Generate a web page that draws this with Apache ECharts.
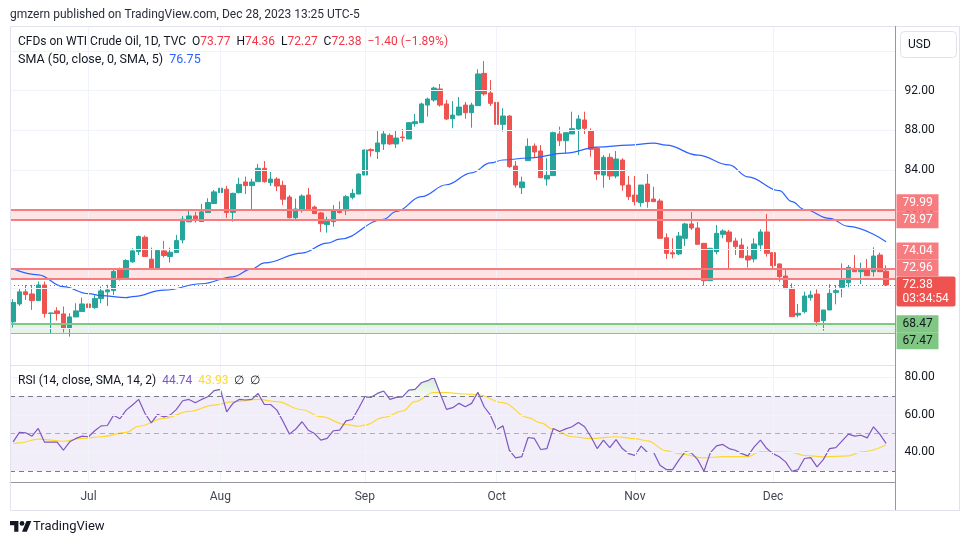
<!DOCTYPE html>
<html><head><meta charset="utf-8">
<script src="https://cdn.jsdelivr.net/npm/echarts@6/dist/echarts.min.js"></script>
<style>html,body{margin:0;padding:0;background:#fff}#c{width:970px;height:545px}</style>
</head><body><div id="c"></div>
<script>
// ---------------- DATA ----------------
const dates = [
'2023-06-15','2023-06-16','2023-06-19','2023-06-20','2023-06-21','2023-06-22','2023-06-23','2023-06-26','2023-06-27','2023-06-28','2023-06-29','2023-06-30',
'2023-07-03','2023-07-04','2023-07-05','2023-07-06','2023-07-07','2023-07-10','2023-07-11','2023-07-12','2023-07-13','2023-07-14','2023-07-17','2023-07-18','2023-07-19','2023-07-20','2023-07-21','2023-07-24','2023-07-25','2023-07-26','2023-07-27','2023-07-28','2023-07-31',
'2023-08-01','2023-08-02','2023-08-03','2023-08-04','2023-08-07','2023-08-08','2023-08-09','2023-08-10','2023-08-11','2023-08-14','2023-08-15','2023-08-16','2023-08-17','2023-08-18','2023-08-21','2023-08-22','2023-08-23','2023-08-24','2023-08-25','2023-08-28','2023-08-29','2023-08-30','2023-08-31',
'2023-09-01','2023-09-04','2023-09-05','2023-09-06','2023-09-07','2023-09-08','2023-09-11','2023-09-12','2023-09-13','2023-09-14','2023-09-15','2023-09-18','2023-09-19','2023-09-20','2023-09-21','2023-09-22','2023-09-25','2023-09-26','2023-09-27','2023-09-28','2023-09-29',
'2023-10-02','2023-10-03','2023-10-04','2023-10-05','2023-10-06','2023-10-09','2023-10-10','2023-10-11','2023-10-12','2023-10-13','2023-10-16','2023-10-17','2023-10-18','2023-10-19','2023-10-20','2023-10-23','2023-10-24','2023-10-25','2023-10-26','2023-10-27','2023-10-30','2023-10-31',
'2023-11-01','2023-11-02','2023-11-03','2023-11-06','2023-11-07','2023-11-08','2023-11-09','2023-11-10','2023-11-13','2023-11-14','2023-11-15','2023-11-16','2023-11-17','2023-11-20','2023-11-21','2023-11-22','2023-11-23','2023-11-24','2023-11-27','2023-11-28','2023-11-29','2023-11-30',
'2023-12-01','2023-12-04','2023-12-05','2023-12-06','2023-12-07','2023-12-08','2023-12-11','2023-12-12','2023-12-13','2023-12-14','2023-12-15','2023-12-18','2023-12-19','2023-12-20','2023-12-21','2023-12-22','2023-12-26','2023-12-27','2023-12-28'
];
const opens = [68.65,70.46,71.68,71.47,70.80,72.38,69.49,69.76,69.45,67.97, 69.15,69.69,70.46,70.09,71.00,71.68,71.81,73.90,73.12,74.71, 75.75,77.20,74.98,74.00,75.82,75.25,75.65,76.93,78.75,79.35, 78.78,79.69,80.60,81.71,82.05,79.71,81.70,82.78,82.41,82.81, 84.16,82.71,83.08,82.44,81.26,79.17,79.98,81.46,80.25,79.65, 78.47,78.77,79.88,79.88,81.23,81.56,83.48,86.05,85.84,86.62, 87.49,86.62,87.32,87.12,88.67,88.77,90.55,91.06,92.17,90.66, 89.17,89.54,90.55,89.78,90.49,93.75,91.77,90.82,88.60,89.44, 84.39,82.20,84.93,86.41,85.91,83.08,83.42,87.63,86.95,87.63, 88.13,89.04,87.93,86.18,83.48,85.27,83.38,85.00,82.47,81.46, 80.69,82.57,81.06,80.86,77.15,75.64,75.51,77.09,78.54,78.13, 76.58,72.81,75.74,77.49,77.73,76.82,76.41,75.30,75.00,76.41, 77.73,75.64,74.50,73.28,72.04,69.34,69.68,71.09,71.46,68.77, 69.85,71.63,72.14,72.60,74.06,73.72,73.89,73.72,75.40,73.77];
const closes = [70.60,71.68,71.41,70.80,72.38,69.49,69.55,69.49,67.97,69.15, 69.76,70.46,70.09,71.00,71.78,71.88,73.73,73.06,74.84,75.82, 77.27,75.25,74.00,75.85,75.35,75.68,76.86,79.02,79.35,78.88, 79.76,80.70,81.78,82.15,79.69,81.63,82.54,82.41,82.78,84.16, 82.81,83.08,82.37,81.03,79.17,80.05,81.36,80.05,79.58,78.57, 78.80,79.95,79.70,81.30,81.63,83.58,86.01,85.94,86.72,87.63, 86.62,87.22,87.25,88.77,88.87,90.66,91.16,92.27,90.55,89.14, 89.54,90.35,89.78,90.55,93.69,91.67,90.72,88.60,89.44,84.33, 82.47,82.78,86.38,85.81,83.21,83.45,87.76,86.95,87.76,88.16, 89.14,88.20,86.08,83.58,85.27,83.38,85.10,82.47,81.30,80.79, 82.47,80.79,80.79,77.09,75.57,75.51,77.32,78.54,78.13,76.48, 72.81,76.08,77.59,77.83,76.75,76.25,75.14,74.90,76.52,77.73, 75.57,74.33,73.22,72.00,69.18,69.51,71.26,71.36,68.67,69.85, 71.53,71.80,72.88,74.16,73.72,73.89,73.32,75.30,73.72,72.38];
const lows = [68.07,70.26,70.87,69.86,70.80,69.08,67.50,68.78,67.57,67.16, 69.15,69.69,69.76,69.96,70.53,70.26,71.37,72.82,73.12,74.60, 75.41,75.25,73.90,73.95,75.15,74.64,75.65,76.59,78.75,78.68, 78.78,79.69,80.60,80.70,79.15,78.77,81.63,81.57,79.95,82.81, 82.71,82.37,81.87,80.45,79.10,79.04,79.68,79.98,79.58,77.73, 77.66,78.27,79.61,79.44,81.03,81.56,83.48,85.34,85.10,86.01, 86.51,86.21,86.85,87.12,88.37,88.77,89.38,90.89,90.39,89.04, 88.20,89.48,89.17,88.26,90.49,91.50,90.45,88.50,87.86,84.20, 82.20,81.56,84.93,85.27,83.21,82.41,83.42,86.41,85.67,87.63, 85.50,87.63,85.34,82.98,82.20,82.98,83.15,81.90,80.96,80.39, 80.29,80.18,80.79,77.09,75.00,75.07,75.40,76.31,77.93,76.48, 72.31,72.81,75.47,77.09,73.89,75.40,75.14,74.13,74.66,75.84, 75.24,74.06,72.71,72.00,69.18,69.11,69.51,70.79,68.23,67.76, 69.85,70.42,71.13,72.14,73.72,72.47,73.32,73.22,73.72,72.27];
const highs = [70.94,72.05,72.38,72.38,72.72,72.72,69.58,70.13,70.20,69.52, 70.53,71.10,71.71,71.34,72.21,72.38,73.97,74.13,74.98,76.09, 77.37,77.37,76.15,75.92,76.83,76.15,77.43,79.35,79.89,79.76, 80.57,81.14,81.98,82.20,82.38,81.70,83.21,83.32,83.11,84.60, 84.90,83.79,83.25,82.91,81.46,81.09,81.53,82.17,80.39,79.75, 79.27,80.45,80.82,81.46,82.07,83.65,86.08,86.18,88.03,87.96, 87.69,87.93,88.13,88.80,89.65,90.79,91.30,92.41,92.68,91.06, 90.96,91.36,90.86,90.79,94.16,95.00,93.08,91.83,90.22,89.54, 84.90,83.32,87.19,86.68,86.51,85.17,87.86,88.37,87.76,89.88, 89.54,89.88,88.20,86.35,85.50,85.67,85.91,85.17,83.38,83.38, 82.47,83.58,82.30,81.09,77.59,77.09,77.73,78.67,79.75,78.74, 76.58,76.08,78.43,78.00,77.93,77.15,77.09,76.25,77.09,78.00, 79.55,75.64,74.56,74.06,72.54,70.46,71.70,71.80,71.94,69.85, 72.44,72.37,74.56,74.40,75.40,74.63,75.00,76.18,75.64,74.36];
// SMA(50) at key bars: [bar index, value]
const smaPoints = [[0,74.0],[4,73.4],[8,72.2],[12,71.5],[14,71.3],[18,71.1],[19,71.2],[24,71.85],[30,72.5],[35,73.2],[38,74.0],[40,74.6],[46,75.6],[50,76.6],[52,77.0],[59,79.0],[61,79.8],[65,81.3],[69,82.5],[73,83.7],[76,84.7],[78,85.0],[82,85.2],[88,85.7],[93,86.3],[98,86.5],[102,86.7],[104,86.5],[109,85.5],[114,84.5],[117,83.3],[122,81.9],[124,80.8],[126,80.0],[130,79.1],[133,78.3],[139,76.75]];
const rsi = [45.6,50.6,50.4,48.6,52.7,45.4,45.4,45.4,41.1,45.6, 47.4,48.6,48.3,51.5,54.1,54.3,59.8,57.9,62.5,65.2, 68.2,60.7,55.7,60.2,58.9,59.8,62.9,67.5,68.2,66.4, 68.2,69.6,72.9,73.6,61.6,66.1,68.2,67.9,68.2,71.4, 65.5,65.5,62.5,56.3,49.7,52.4,56.3,51.8,50.0,46.5, 47.4,51.5,51.8,56.8,57.5,63.4,69.6,69.3,71.4,72.7, 68.2,69.3,69.6,73.2,73.6,77.1,78.2,80.0,71.4,62.9, 63.8,66.1,64.3,66.1,72.0,64.3,59.8,52.2,54.1,41.1, 37.0,37.7,47.9,47.4,41.5,42.0,52.7,51.1,52.5,53.6, 55.9,53.6,48.3,42.0,46.5,42.5,46.8,42.0,39.3,38.4, 43.3,39.9,39.9,33.1,30.8,30.8,35.8,40.2,39.7,36.1, 29.9,39.7,43.4,44.2,42.0,41.1,39.3,38.1,42.9,46.5, 42.0,39.3,37.6,34.9,29.9,30.8,36.7,37.2,32.2,36.1, 42.0,42.5,46.1,49.7,48.6,49.1,47.7,53.6,49.7,44.74];
// RSI-based SMA read at key bars
const rsiSmaPoints = [[0,44.7],[1,45.0],[4,47.0],[8,45.9],[11,47.4],[14,48.3],[18,50.6],[20,53.9],[24,58.1],[28,61.8],[32,65.2],[35,67.0],[39,68.2],[42,67.0],[46,62.7],[49,59.0],[53,54.8],[55,53.9],[56,54.5],[59,58.6],[62,62.0],[64,67.0],[67,71.9],[69,71.8],[72,71.1],[74,70.7],[78,66.5],[82,58.5],[84,55.7],[86,52.3],[89,48.3],[92,47.4],[96,48.3],[99,47.3],[101,46.1],[104,40.8],[106,39.3],[110,37.0],[113,37.7],[117,37.7],[119,40.4],[122,40.2],[124,40.0],[126,38.3],[129,37.6],[133,38.1],[135,40.2],[139,43.93]];
const monthLabels = {'2023-07-03':'Jul','2023-08-01':'Aug','2023-09-01':'Sep','2023-10-02':'Oct','2023-11-01':'Nov','2023-12-01':'Dec'};
const priceTicks = [68,72,76,80,84,88,92,96];
const rsiTicks = [40,60,80];
const rsiLevels = [70,50,30];
const redBands = [[78.97,79.99],[72.96,74.04]];
const greenBand = [67.47,68.47];
const lastPrice = 72.38;
const dayChange = -1.40, dayChangePct = -1.89;
const countdown = '03:34:54';

// ---------------- CHART ----------------
const FONT = 'Roboto, "Noto Sans", sans-serif';
const cats = dates.concat(['']);
const nulls = cats.map(() => null);
function sparse(points){ const a = dates.map(() => null); points.forEach(p => { a[p[0]] = p[1]; }); return a; }
const candles = dates.map((d,i) => [opens[i], closes[i], lows[i], highs[i]]);
const monthStarts = Object.keys(monthLabels);
const gridColor = '#f0f3fa';

const chart = echarts.init(document.getElementById('c'), null, {renderer:'canvas'});
const baseX = { type:'category', data: cats, boundaryGap: true, axisTick:{show:false}, splitLine:{show:false} };
chart.setOption({
  animation: false,
  backgroundColor: '#ffffff',
  grid: [
    { left: 10, top: 26, width: 885.5, height: 339 },
    { left: 10, top: 365, width: 885.5, height: 117 }
  ],
  xAxis: [
    Object.assign({}, baseX, { gridIndex: 0, axisLine:{show:false}, axisLabel:{show:false} }),
    Object.assign({}, baseX, { gridIndex: 1,
      axisLine:{show:true, lineStyle:{color:'#9598a1', width:1}},
      axisLabel:{ show:true, interval: (idx, val) => monthLabels[val] !== undefined,
        formatter: v => monthLabels[v] || '', color:'#434651', fontSize:12, fontFamily:FONT, margin: 9 } })
  ],
  yAxis: [
    { gridIndex: 0, type:'value', min: 64.293, max: 98.535, show: false, splitLine:{show:false} },
    { gridIndex: 1, type:'value', min: 24.16, max: 86.56, show: false, splitLine:{show:false} }
  ],
  series: [
    { type:'line', xAxisIndex:0, yAxisIndex:0, data: nulls, z:1, silent:true,
      markLine:{ silent:true, symbol:['none','none'], animation:false,
        lineStyle:{color:gridColor, type:'solid', width:1},
        data: priceTicks.map(v => ({ yAxis: v, label:{show:true, position:'end', distance: 9, formatter: p => Number(p.value).toFixed(2), color:'#131722', fontSize:12, fontFamily:FONT} }))
          .concat(monthStarts.map(d => ({ xAxis: d, label:{show:false} }))) } },
    { type:'candlestick', xAxisIndex:0, yAxisIndex:0, data: candles, z:3, barWidth: 5,
      itemStyle:{ color:'#26a69a', color0:'#ef5350', borderColor:'#26a69a', borderColor0:'#ef5350', borderWidth:1 } },
    { type:'line', xAxisIndex:0, yAxisIndex:0, data: sparse(smaPoints), connectNulls:true, smooth:0.4, smoothMonotone:'x',
      symbol:'none', z:4, lineStyle:{color:'#2962ff', width:1.2} },
    { type:'line', xAxisIndex:0, yAxisIndex:0, data: nulls, z:5, silent:true,
      markArea:{ silent:true, data: redBands.map(b => [{yAxis:b[0], itemStyle:{color:'rgba(247,124,128,0.2)'}},{yAxis:b[1]}])
        .concat([[{yAxis:greenBand[0], itemStyle:{color:'rgba(129,199,132,0.2)'}},{yAxis:greenBand[1]}]]) },
      markLine:{ silent:true, symbol:['none','none'], label:{show:false},
        data: [].concat(...redBands.map(b => [
          {yAxis:b[0], lineStyle:{color:'#f77c80', width:2, type:'solid'}},
          {yAxis:b[1], lineStyle:{color:'#f77c80', width:2, type:'solid'}}]))
          .concat([
          {yAxis:greenBand[1], lineStyle:{color:'#81c784', width:2, type:'solid'}},
          {yAxis:greenBand[0], lineStyle:{color:'#81c784', width:1, type:'solid'}},
          {yAxis:lastPrice, lineStyle:{color:'#ef5350', width:1, type:[1,3]}}
        ]) } },
    { type:'line', xAxisIndex:1, yAxisIndex:1, data: nulls, z:1, silent:true,
      markArea:{ silent:true, data:[[{yAxis:30, itemStyle:{color:'rgba(126,87,194,0.1)'}},{yAxis:70}]] },
      markLine:{ silent:true, symbol:['none','none'], animation:false,
        data: rsiTicks.map(v => ({ yAxis:v, lineStyle:{color:gridColor, width:1, type:'solid'},
            label:{show:true, position:'end', distance:9, formatter: p => Number(p.value).toFixed(2), color:'#131722', fontSize:12, fontFamily:FONT} }))
          .concat(monthStarts.map(d => ({ xAxis:d, lineStyle:{color:gridColor, width:1, type:'solid'}, label:{show:false} })))
          .concat(rsiLevels.map(v => ({ yAxis:v, label:{show:false},
            lineStyle:{color: v === 50 ? 'rgba(120,123,134,0.55)' : '#787b86', width:1, type:[5,4]} }))) } },
    { type:'line', xAxisIndex:1, yAxisIndex:1, data: rsi.map(v => Math.max(v,70)), symbol:'none', z:2,
      lineStyle:{width:0}, areaStyle:{origin:70, color:{type:'linear',x:0,y:0,x2:0,y2:1,colorStops:[{offset:0,color:'rgba(76,175,80,0.35)'},{offset:1,color:'rgba(76,175,80,0.08)'}]}} },
    { type:'line', xAxisIndex:1, yAxisIndex:1, data: rsi.map(v => Math.min(v,30)), symbol:'none', z:2,
      lineStyle:{width:0}, areaStyle:{origin:30, color:'rgba(242,54,69,0.12)'} },
    { type:'line', xAxisIndex:1, yAxisIndex:1, data: rsi, symbol:'none', z:4, lineStyle:{color:'#7e57c2', width:1.2} },
    { type:'line', xAxisIndex:1, yAxisIndex:1, data: sparse(rsiSmaPoints), connectNulls:true, smooth:0.4, smoothMonotone:'x',
      symbol:'none', z:3, lineStyle:{color:'#fdd835', width:1.2} }
  ]
});

// ---------------- OVERLAYS ----------------
const Y = p => chart.convertToPixel({yAxisIndex:0}, p);
const H = 17, TX = 896.5;
const g = [];
g.push({type:'rect', z:50, silent:true, shape:{x:10.5, y:26.5, width:949, height:484}, style:{fill:'none', stroke:'#e0e3eb', lineWidth:1}});
g.push({type:'line', z:50, silent:true, shape:{x1:10, y1:365.5, x2:896, y2:365.5}, style:{stroke:'#e0e3eb', lineWidth:1}});
g.push({type:'line', z:50, silent:true, shape:{x1:895.5, y1:26, x2:895.5, y2:510}, style:{stroke:'#9598a1', lineWidth:1}});
g.push({type:'rect', z:60, shape:{x:900.5, y:31.5, width:56, height:26, r:4}, style:{fill:'#fff', stroke:'#e0e3eb', lineWidth:1}});
g.push({type:'text', z:61, style:{x:908, y:44.5, text:'USD', fill:'#131722', font:'12px '+FONT, verticalAlign:'middle'}});
g.push({type:'text', z:60, style:{x:10, y:14.5, text:'gmzern published on TradingView.com, Dec 28, 2023 13:25 UTC-5', fill:'#2a2e39', font:'12px '+FONT, verticalAlign:'middle'}});
const fmt = v => (v < 0 ? '\u2212' : '') + Math.abs(v).toFixed(2);
const i0 = closes.length - 1;
g.push({type:'text', z:60, style:{x:18, y:42, verticalAlign:'middle', font:'12px '+FONT,
  text:'{t|CFDs on WTI Crude Oil, 1D, TVC}  {t|O}{r|'+opens[i0].toFixed(2)+'}  {t|H}{r|'+highs[i0].toFixed(2)+'}  {t|L}{r|'+lows[i0].toFixed(2)+'}  {t|C}{r|'+closes[i0].toFixed(2)+'}  {r|'+fmt(dayChange)+' ('+fmt(dayChangePct)+'%)}',
  rich:{t:{fill:'#131722', font:'12px '+FONT}, r:{fill:'#f23645', font:'12px '+FONT}}}});
g.push({type:'text', z:60, style:{x:18, y:60, verticalAlign:'middle', font:'12.5px '+FONT,
  text:'{t|SMA (50, close, 0, SMA, 5)}  {b|'+smaPoints[smaPoints.length-1][1].toFixed(2)+'}',
  rich:{t:{fill:'#131722', font:'12.5px '+FONT}, b:{fill:'#2962ff', font:'12.5px '+FONT}}}});
g.push({type:'text', z:60, style:{x:18, y:381, verticalAlign:'middle', font:'12px '+FONT,
  text:'{t|RSI (14, close, SMA, 14, 2)}  {p|'+rsi[rsi.length-1].toFixed(2)+'}  {y|'+rsiSmaPoints[rsiSmaPoints.length-1][1].toFixed(2)+'}  {t|\u2205}  {t|\u2205}',
  rich:{t:{fill:'#131722', font:'12px '+FONT}, p:{fill:'#7e57c2', font:'12px '+FONT}, y:{fill:'#fdd835', font:'12px '+FONT}}}});
const cy = Y(lastPrice);
const curTop = cy - H/2, curBottom = cy - H/2 + 30;
g.push({type:'rect', z:70, shape:{x:TX, y:curTop, width:59, height:30, r:2}, style:{fill:'#ef5350'}});
g.push({type:'text', z:71, style:{x:TX+6, y:cy, text:lastPrice.toFixed(2), fill:'#fff', font:'12px '+FONT, verticalAlign:'middle'}});
g.push({type:'text', z:71, style:{x:TX+6, y:cy+14, text:countdown, fill:'#fff', font:'12px '+FONT, verticalAlign:'middle'}});
const above = [redBands[1][0], redBands[1][1], redBands[0][0], redBands[0][1]];
let lim = curTop;
above.forEach(p => {
  const c = Math.min(Y(p), lim - H/2); lim = c - H/2;
  g.push({type:'rect', z:70, shape:{x:TX, y:c-H/2, width:42, height:H}, style:{fill:'#f77c80'}});
  g.push({type:'text', z:71, style:{x:TX+6, y:c, text:p.toFixed(2), fill:'#fff', font:'12px '+FONT, verticalAlign:'middle'}});
});
const below = [greenBand[1], greenBand[0]];
lim = curBottom;
below.forEach(p => {
  const c = Math.max(Y(p), lim + H/2); lim = c + H/2;
  g.push({type:'rect', z:70, shape:{x:TX, y:c-H/2, width:42, height:H}, style:{fill:'#81c784'}});
  g.push({type:'text', z:71, style:{x:TX+6, y:c, text:p.toFixed(2), fill:'#131722', font:'12px '+FONT, verticalAlign:'middle'}});
});
// TradingView logo (simple shapes)
const s = 0.6, lx = 10, ly = 521;
const P = (x, y) => [lx + x*s, ly + (y-4)*s];
g.push({type:'polygon', z:60, shape:{points:[P(0,4),P(14,4),P(14,22),P(7,22),P(7,11),P(0,11)]}, style:{fill:'#131722'}});
g.push({type:'polygon', z:60, shape:{points:[P(20,22),P(27.5,4),P(35.5,4),P(28,22)]}, style:{fill:'#131722'}});
g.push({type:'circle', z:60, shape:{cx:P(20,8)[0], cy:P(20,8)[1], r:4*s}, style:{fill:'#131722'}});
g.push({type:'text', z:60, style:{x:33, y:527, text:'TradingView', fill:'#131722', font:'13px '+FONT, verticalAlign:'middle'}});
chart.setOption({graphic: g});
</script></body></html>
